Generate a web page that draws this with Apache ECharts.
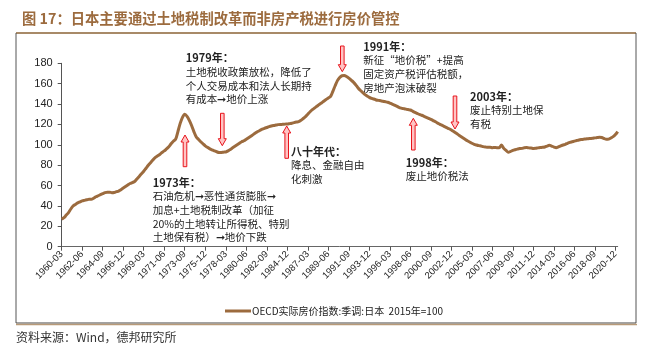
<!DOCTYPE html>
<html>
<head>
<meta charset="utf-8">
<script src="https://cdn.jsdelivr.net/npm/echarts@6/dist/echarts.min.js"></script>
<style>
html,body{margin:0;padding:0;background:#fff;}
#c{width:652px;height:349px;}
</style>
</head>
<body>
<div id="c"></div>
<script>
// Quarterly categories 1960-03 .. 2021-03
const years = [];
for (let y = 1960; y <= 2021; y++) years.push(y);
const quarterEnds = ['03', '06', '09', '12'];
const categories = [];
years.forEach(y => quarterEnds.forEach(q => { if (!(y === 2021 && q !== '03')) categories.push(y + '-' + q); }));

const seriesName = 'OECD实际房价指数:季调:日本  2015年=100';
const values = [
  27, 28.5, 31, 33.5,        // 1960
  37, 40, 41.5, 43,          // 1961
  44, 45, 45.5, 46,          // 1962
  46.5, 46.5, 47.5, 49,      // 1963
  50, 51, 52, 53,            // 1964
  53.5, 53.5, 53, 53.2,      // 1965
  54, 54.6, 56, 57.5,        // 1966
  59, 60.5, 62, 63,          // 1967
  64, 66.5, 69, 71.5,        // 1968
  74, 77, 80, 82.5,          // 1969
  85, 87.5, 89, 90.5,        // 1970
  92.5, 94, 96, 98,          // 1971
  101, 103.5, 105.5, 113,    // 1972
  121, 127, 130, 128,        // 1973
  124, 119, 113, 108,        // 1974
  105.4, 103, 101, 99,       // 1975
  97.5, 96, 95, 94,          // 1976
  93.2, 92.5, 92.5, 92.8,    // 1977
  93, 94, 95.5, 97,          // 1978
  98.5, 100, 101.5, 103,     // 1979
  104, 105.5, 107, 108.5,    // 1980
  110, 111.5, 113, 114.2,    // 1981
  115.3, 116.2, 117, 117.8,  // 1982
  118.5, 119, 119.4, 119.8,  // 1983
  120, 120.1, 120.3, 120.4,  // 1984
  120.8, 121.2, 121.8, 122.3,// 1985
  122.7, 124, 125.8, 127.6,  // 1986
  130, 132.5, 134.5, 136.2,  // 1987
  137.8, 139.5, 141, 142.8,  // 1988
  144.5, 146, 147.5, 152.5,  // 1989
  158, 163, 166, 167.8,      // 1990
  168, 167, 165.5, 163.5,    // 1991
  161.5, 159, 156, 153.5,    // 1992
  151.5, 149.5, 148, 146.5,  // 1993
  145.5, 145, 144, 143.6,    // 1994
  143.2, 142.8, 142.3, 141.8,// 1995
  141, 140, 139, 138,        // 1996
  136.8, 136, 135.5, 135,    // 1997
  134.6, 134.2, 133, 131.8,  // 1998
  130.8, 129.8, 129, 128,    // 1999
  127, 126, 125, 123.8,      // 2000
  122.6, 121.3, 120, 119,    // 2001
  117.8, 116.8, 115.8, 114.5,// 2002
  113, 111.5, 110, 108.5,    // 2003
  107, 105.5, 104, 102.8,    // 2004
  101.5, 100.5, 99.8, 99.2,  // 2005
  98.8, 98.2, 97.8, 97.5,    // 2006
  97.5, 97.2, 97.3, 97.2,    // 2007
  97.2, 99.8, 96.5, 94.5,    // 2008
  92.6, 93.5, 94.5, 95.2,    // 2009
  95.8, 96.3, 96.5, 97.2,    // 2010
  97.3, 97, 96.8, 96.5,      // 2011
  96.6, 97, 97.3, 97.5,      // 2012
  97.8, 98.7, 99.5, 98.8,    // 2013
  97.8, 97.2, 98, 99,        // 2014
  99.8, 100.5, 101.5, 102.4, // 2015
  103, 103.6, 104.2, 104.8,  // 2016
  105.2, 105.5, 105.7, 106,  // 2017
  106.2, 106.4, 106.8, 107.1,// 2018
  107.4, 107.2, 106.2, 105.4,// 2019
  105.6, 106.7, 108, 110,    // 2020
  113                        // 2021
];

const titleText = '图 17：日本主要通过土地税制改革而非房产税进行房价管控';
const sourceText = '资料来源：Wind，德邦研究所';

const annotations = [
  { x: 152.7, y: 182.7, lines: ['1973年：', '石油危机➞恶性通货膨胀➞', '加息+土地税制改革（加征', '20%的土地转让所得税、特别', '土地保有税）➞地价下跌'] },
  { x: 185.7, y: 58.3, lines: ['1979年：', '土地税收政策放松，降低了', '个人交易成本和法人长期持', '有成本➞地价上涨'] },
  { x: 291, y: 151.7, lines: ['八十年代：', '降息、金融自由', '化刺激'] },
  { x: 363.3, y: 46.7, lines: ['1991年：', '新征“地价税”+提高', '固定资产税评估税额，', '房地产泡沫破裂'] },
  { x: 470, y: 96.7, lines: ['2003年：', '废止特别土地保', '有税'] },
  { x: 405.7, y: 162.7, lines: ['1998年：', '废止地价税法'] }
];
// arrows: [x, tipY, tailY]
const arrows = [
  [185, 135, 166.7],
  [222.3, 145.7, 113.3],
  [286.7, 126, 158.3],
  [342.3, 71.7, 46],
  [413.3, 118.3, 150],
  [455, 129, 96]
];

const CJK = '"Noto Sans CJK SC", "Noto Sans", sans-serif';
const graphics = [];

// frame
graphics.push({ type: 'line', shape: { x1: 16, y1: 33, x2: 636, y2: 33 }, style: { stroke: '#a88a68', lineWidth: 2 } });
graphics.push({ type: 'line', shape: { x1: 16, y1: 33, x2: 16, y2: 323 }, style: { stroke: '#555', lineWidth: 1 } });
graphics.push({ type: 'line', shape: { x1: 636, y1: 33, x2: 636, y2: 323 }, style: { stroke: '#555', lineWidth: 1 } });
graphics.push({ type: 'line', shape: { x1: 16, y1: 323, x2: 636, y2: 323 }, style: { stroke: '#444', lineWidth: 1 } });
graphics.push({ type: 'line', shape: { x1: 16, y1: 324.5, x2: 637, y2: 324.5 }, style: { stroke: '#b89a78', lineWidth: 1.5 } });

// source
graphics.push({ type: 'text', left: 16, top: 331, style: { text: sourceText, font: '12px ' + CJK, fill: '#333' } });

// annotations
annotations.forEach(a => {
  a.lines.forEach((t, i) => {
    graphics.push({
      type: 'text', x: a.x, y: a.y + i * 13.7,
      style: {
        text: t,
        font: (i === 0 ? 'bold 11px ' : '10.5px ') + CJK,
        fill: '#222',
        textVerticalAlign: 'middle',
        textAlign: 'left'
      }
    });
  });
});

// arrows
arrows.forEach(([cx, tip, tail]) => {
  const dir = tail > tip ? 1 : -1;
  const hh = 7 * dir;
  const pts = [
    [cx, tip], [cx + 4, tip + hh], [cx + 1.8, tip + hh], [cx + 1.8, tail],
    [cx - 1.8, tail], [cx - 1.8, tip + hh], [cx - 4, tip + hh]
  ];
  graphics.push({ type: 'polygon', shape: { points: pts }, style: { fill: '#ffc4c4', stroke: '#e8141c', lineWidth: 1 }, z: 10 });
});

const chart = echarts.init(document.getElementById('c'));
chart.setOption({
  animation: false,
  backgroundColor: '#fff',
  title: {
    text: titleText, left: 17, top: 6,
    textStyle: { color: '#9c6b3e', fontSize: 14.3, fontWeight: 'bold', fontFamily: CJK }
  },
  legend: {
    left: 220, top: 301, itemWidth: 26, itemHeight: 3, icon: 'rect', itemGap: 4,
    textStyle: { fontSize: 10, color: '#222', fontFamily: CJK, padding: [0, 0, 0, -4] },
    data: [seriesName]
  },
  grid: { left: 61.7, right: 34.3, top: 63.3, bottom: 102.3, containLabel: false },
  xAxis: {
    type: 'category', data: categories, boundaryGap: false,
    axisLine: { lineStyle: { color: '#666', width: 1 } },
    axisTick: { interval: 8, length: 4, lineStyle: { color: '#555' } },
    axisLabel: { interval: 8, rotate: 45, fontSize: 9.5, color: '#222', margin: 6, fontFamily: 'Arial, "Liberation Sans", sans-serif' }
  },
  yAxis: {
    type: 'value', min: 0, max: 180, interval: 20,
    axisLine: { show: true, lineStyle: { color: '#555' } },
    axisTick: { show: true, length: 4, lineStyle: { color: '#555' } },
    splitLine: { show: false },
    axisLabel: { fontSize: 11, color: '#222', margin: 9, fontFamily: 'Arial, "Liberation Sans", sans-serif' }
  },
  series: [{
    name: seriesName, type: 'line', data: values, showSymbol: false, symbol: 'none',
    smooth: 0.3,
    lineStyle: { color: '#9c6b3e', width: 3 },
    itemStyle: { color: '#9c6b3e' }
  }],
  graphic: graphics
});
</script>
</body>
</html>
